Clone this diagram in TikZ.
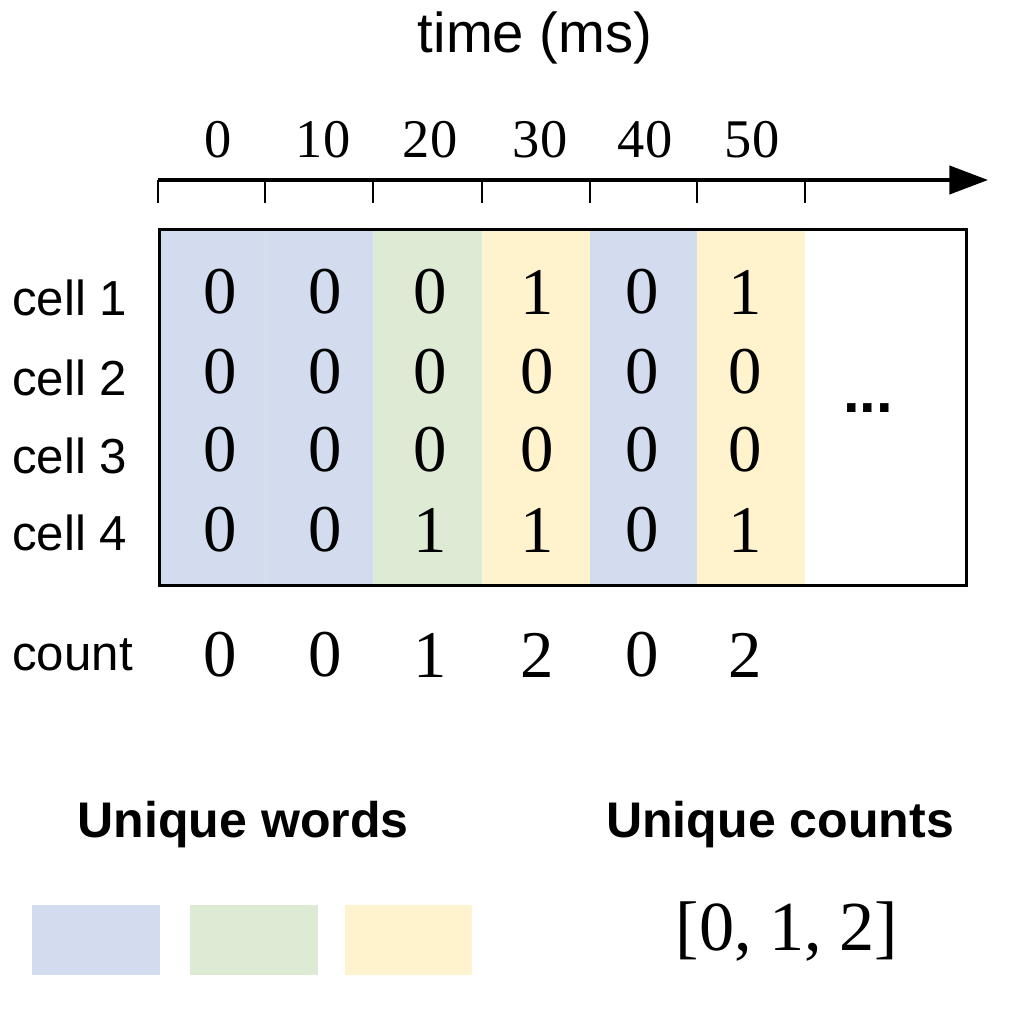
\documentclass[tikz,border=0pt]{standalone}
\usepackage{fontspec}
\setsansfont{Liberation Sans}
\newfontfamily\digfont{Liberation Serif}
\usetikzlibrary{arrows.meta}
\definecolor{cblue}{HTML}{D2DCEE}
\definecolor{cgreen}{HTML}{DDEBD5}
\definecolor{cyellow}{HTML}{FFF3CE}
\tikzset{
  lab/.style={font=\sffamily\fontsize{28}{30}\selectfont, anchor=west, inner sep=0},
  dig/.style={font=\digfont\fontsize{38}{40}\selectfont, inner sep=0},
  tick/.style={font=\digfont\fontsize{31}{33}\selectfont, inner sep=0},
  head/.style={font=\sffamily\bfseries\fontsize{28.5}{30}\selectfont, inner sep=0},
  ax/.style={line width=2.2pt},
}
\begin{document}
\begin{tikzpicture}[x=0.02cm,y=-0.02cm]
\useasboundingbox (0,0) rectangle (1012,1021);
\node[font=\sffamily\fontsize{32}{34}\selectfont] (title) at (535,38) {time (ms)};
\fill[cblue] (158,228) rectangle (373,584);
\fill[cgreen] (373,228) rectangle (482,584);
\fill[cyellow] (482,228) rectangle (590,584);
\fill[cblue] (590,228) rectangle (697,584);
\fill[cyellow] (697,228) rectangle (805,584);
\draw[cblue!80!gray!60] (265,228) -- (265,584);
\node[draw, line width=1.5pt, minimum width=807*0.02cm, minimum height=356*0.02cm, inner sep=0, anchor=north west] (box) at (158,228) {};
\coordinate (a0) at (158,180);
\coordinate (a1) at (988,180);
\draw[ax, -{Triangle[length=22pt,width=16pt]}] (a0) -- (a1);
\foreach \x in {158,265,373,482,590,697,805} \draw[line width=1.5pt] (\x,180) -- (\x,203);
\foreach \x/\t in {218/0,323/10,430/20,540/30,645/40,752/50}
  \node[tick] (t\t) at (\x,140) {\t};
\foreach \y/\t [count=\i] in {298/cell 1,378/cell 2,456/cell 3,533/cell 4,655/count}
  \node[lab] (l\i) at (12,\y) {\t};
\def\xx{{220,325,430,537,642,745}}
\foreach \row/\y in {{0,0,0,1,0,1}/292,{0,0,0,0,0,0}/372,{0,0,0,0,0,0}/450,{0,0,1,1,0,1}/530,{0,0,1,2,0,2}/655}{
  \foreach \v [count=\j from 0] in \row {
    \pgfmathsetmacro\px{\xx[\j]}
    \node[dig] at (\px,\y) {\v};
  }
}
\node[font=\sffamily\bfseries\fontsize{34}{34}\selectfont, inner sep=0] (dots) at (868,408) {...};
\node[head] (uw) at (243,825) {Unique words};
\node[head] (uc) at (780,825) {Unique counts};
\fill[cblue] (32,905) rectangle (160,975);
\fill[cgreen] (190,905) rectangle (318,975);
\fill[cyellow] (345,905) rectangle (472,975);
\node[font=\digfont\fontsize{40}{42}\selectfont, inner sep=0] (set) at (787,932) {[0, 1, 2]};
\end{tikzpicture}
\end{document}
